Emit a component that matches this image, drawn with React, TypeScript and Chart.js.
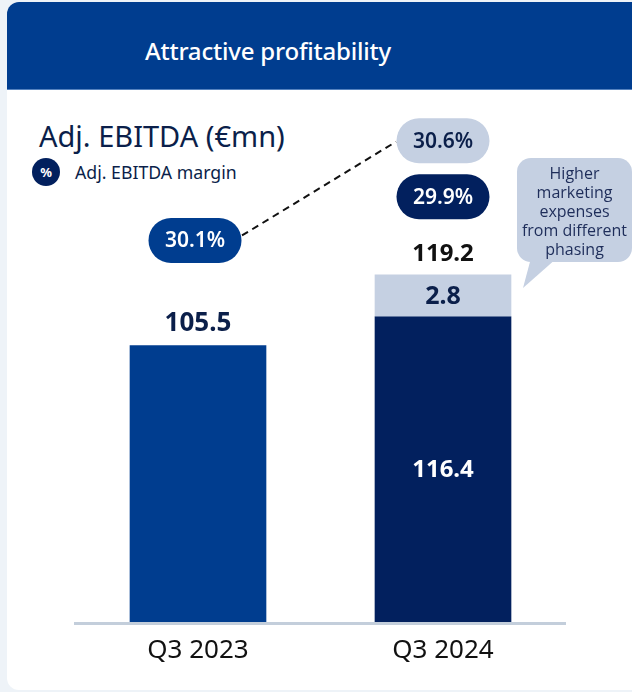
import React, { useEffect, useRef } from 'react';
import { Chart, registerables } from 'chart.js';

Chart.register(...registerables);

// ---- data ----
const categories = ['Q3 2023', 'Q3 2024'];
const ebitdaCore = [105.5, 116.4];
const marketingPhasing: (number | null)[] = [null, 2.8];
const ebitdaTotal = [105.5, 119.2];
const ebitdaMargin = [30.1, 29.9];
const marginExPhasing: (number | null)[] = [null, 30.6];
const calloutLines = ['Higher', 'marketing', 'expenses', 'from different', 'phasing'];

// ---- styles ----
const BLUE = '#003d8f';
const NAVY = '#02205e';
const LIGHT = '#c5d0e2';
const INK = '#0b1f4a';
const FONT = '"Noto Sans", "DejaVu Sans", sans-serif';

const annotate = {
  id: 'annotate',
  afterDatasetsDraw(chart: any) {
    const ctx: CanvasRenderingContext2D = chart.ctx;
    const core = chart.getDatasetMeta(0).data;
    const extra = chart.getDatasetMeta(1).data;

    const pill = (cx: number, cy: number, fill: string, color: string, text: string) => {
      const w = 93, h = 45;
      ctx.beginPath();
      (ctx as any).roundRect(cx - w / 2, cy - h / 2, w, h, h / 2);
      ctx.fillStyle = fill;
      ctx.fill();
      ctx.fillStyle = color;
      ctx.font = `600 21px ${FONT}`;
      ctx.textAlign = 'center';
      ctx.textBaseline = 'middle';
      ctx.fillText(text, cx, cy + 1);
    };

    const marginPos: { x: number; y: number }[] = [];
    const exPos: ({ x: number; y: number } | null)[] = [];

    ctx.save();
    categories.forEach((_, i) => {
      const bar = core[i];
      const x = bar.x;
      const hasExtra = marketingPhasing[i] != null;
      const top = hasExtra ? extra[i].y : bar.y;

      ctx.textAlign = 'center';
      ctx.textBaseline = 'middle';
      if (hasExtra) {
        ctx.fillStyle = '#ffffff';
        ctx.font = `bold 24px ${FONT}`;
        ctx.fillText(ebitdaCore[i].toFixed(1), x, (bar.y + bar.base) / 2);
        const e = extra[i];
        ctx.fillStyle = INK;
        ctx.font = `bold 25px ${FONT}`;
        ctx.fillText((marketingPhasing[i] as number).toFixed(1), x, (e.y + e.base) / 2 + 1);
      }
      ctx.fillStyle = hasExtra ? '#111111' : INK;
      ctx.font = `bold ${hasExtra ? 24 : 26}px ${FONT}`;
      ctx.fillText(ebitdaTotal[i].toFixed(1), x, top - (hasExtra ? 21 : 22));

      const my = top - (hasExtra ? 78 : 105);
      const mx = x - (hasExtra ? 0 : 3);
      pill(mx, my, i === 0 ? BLUE : NAVY, '#ffffff', ebitdaMargin[i].toFixed(1) + '%');
      marginPos[i] = { x: mx, y: my };

      if (marginExPhasing[i] != null) {
        const ey = top - 134;
        pill(x, ey, LIGHT, INK, (marginExPhasing[i] as number).toFixed(1) + '%');
        exPos[i] = { x, y: ey };
      } else {
        exPos[i] = null;
      }
    });

    // dashed connector from prior-year margin to comparable margin
    for (let i = 1; i < categories.length; i++) {
      const to = exPos[i];
      const from = marginPos[i - 1];
      if (!to || !from) continue;
      ctx.beginPath();
      ctx.setLineDash([7, 5]);
      ctx.lineWidth = 2;
      ctx.strokeStyle = '#111111';
      ctx.moveTo(from.x + 47, from.y - 5);
      ctx.lineTo(to.x - 47, to.y + 1);
      ctx.stroke();
      ctx.setLineDash([]);
    }
    ctx.restore();
  },
};

function ChartCanvas() {
  const ref = useRef<HTMLCanvasElement | null>(null);
  useEffect(() => {
    if (!ref.current) return;
    const chart = new Chart(ref.current, {
      type: 'bar',
      data: {
        labels: categories,
        datasets: [
          {
            label: 'Adj. EBITDA',
            data: ebitdaCore,
            backgroundColor: [BLUE, NAVY],
            barThickness: 136,
            stack: 's',
          },
          {
            label: 'Marketing phasing',
            data: marketingPhasing,
            backgroundColor: LIGHT,
            barThickness: 136,
            minBarLength: 42,
            stack: 's',
          },
        ] as any,
      },
      options: {
        responsive: false,
        animation: false,
        devicePixelRatio: 1,
        layout: { padding: { left: 75.5, right: 66.5, top: 201.8, bottom: 14.4 } },
        plugins: { legend: { display: false }, tooltip: { enabled: false }, title: { display: false } },
        scales: {
          x: {
            stacked: true,
            grid: { display: false, drawTicks: false },
            border: { display: true, color: '#c3cedb', width: 3, z: 1 } as any,
            ticks: { color: '#111111', padding: 11.4, font: { family: FONT, size: 26 } },
          },
          y: {
            stacked: true,
            display: false,
            min: 0,
            max: 160,
          },
        },
      },
      plugins: [annotate],
    });
    return () => chart.destroy();
  }, []);
  return (
    <canvas
      ref={ref}
      width={632}
      height={692}
      style={{ position: 'absolute', left: 0, top: 0, width: 632, height: 692 }}
    />
  );
}

export default function App() {
  return (
    <div
      style={{
        position: 'fixed',
        left: 0,
        top: 0,
        width: 632,
        height: 692,
        background: '#eef3f8',
        overflow: 'hidden',
        fontFamily: FONT,
      }}
    >
      <div
        style={{
          position: 'absolute',
          left: 7,
          top: 2,
          width: 700,
          height: 688,
          background: '#ffffff',
          borderRadius: 12,
          overflow: 'hidden',
        }}
      >
        <div style={{ height: 87, background: BLUE, borderBottom: '1px solid #5482bf' }} />
      </div>
      <div
        style={{
          position: 'absolute',
          left: 0,
          top: 38,
          width: 536,
          textAlign: 'center',
          color: '#ffffff',
          fontSize: 24,
          fontWeight: 500,
          lineHeight: '25px',
          letterSpacing: -0.2,
        }}
      >
        Attractive profitability
      </div>
      <div
        style={{
          position: 'absolute',
          left: 39,
          top: 121,
          color: INK,
          fontSize: 29,
          lineHeight: '29px',
          whiteSpace: 'nowrap',
        }}
      >
        Adj. EBITDA (€mn)
      </div>
      <div
        style={{
          position: 'absolute',
          left: 32,
          top: 158,
          width: 28,
          height: 28,
          borderRadius: '50%',
          background: NAVY,
          color: '#ffffff',
          fontSize: 13,
          fontWeight: 700,
          display: 'flex',
          alignItems: 'center',
          justifyContent: 'center',
        }}
      >
        %
      </div>
      <div
        style={{
          position: 'absolute',
          left: 75,
          top: 158,
          height: 28,
          display: 'flex',
          alignItems: 'center',
          color: INK,
          fontSize: 17.7,
          whiteSpace: 'nowrap',
        }}
      >
        Adj. EBITDA margin
      </div>
      <ChartCanvas />
      <svg
        width={632}
        height={692}
        style={{ position: 'absolute', left: 0, top: 0, pointerEvents: 'none' }}
      >
        <rect x={517} y={158} width={115} height={104} rx={14} ry={14} fill={LIGHT} />
        <polygon points="531,258 557,258 523,288" fill={LIGHT} />
      </svg>
      <div
        style={{
          position: 'absolute',
          left: 517,
          top: 164,
          width: 115,
          textAlign: 'center',
          color: '#1e2d5a',
          fontFamily: '"Open Sans", "Noto Sans", sans-serif',
          fontSize: 16,
          lineHeight: '19px',
        }}
      >
        {calloutLines.map((l, i) => (
          <div key={i} style={{ whiteSpace: 'nowrap' }}>{l}</div>
        ))}
      </div>
    </div>
  );
}
